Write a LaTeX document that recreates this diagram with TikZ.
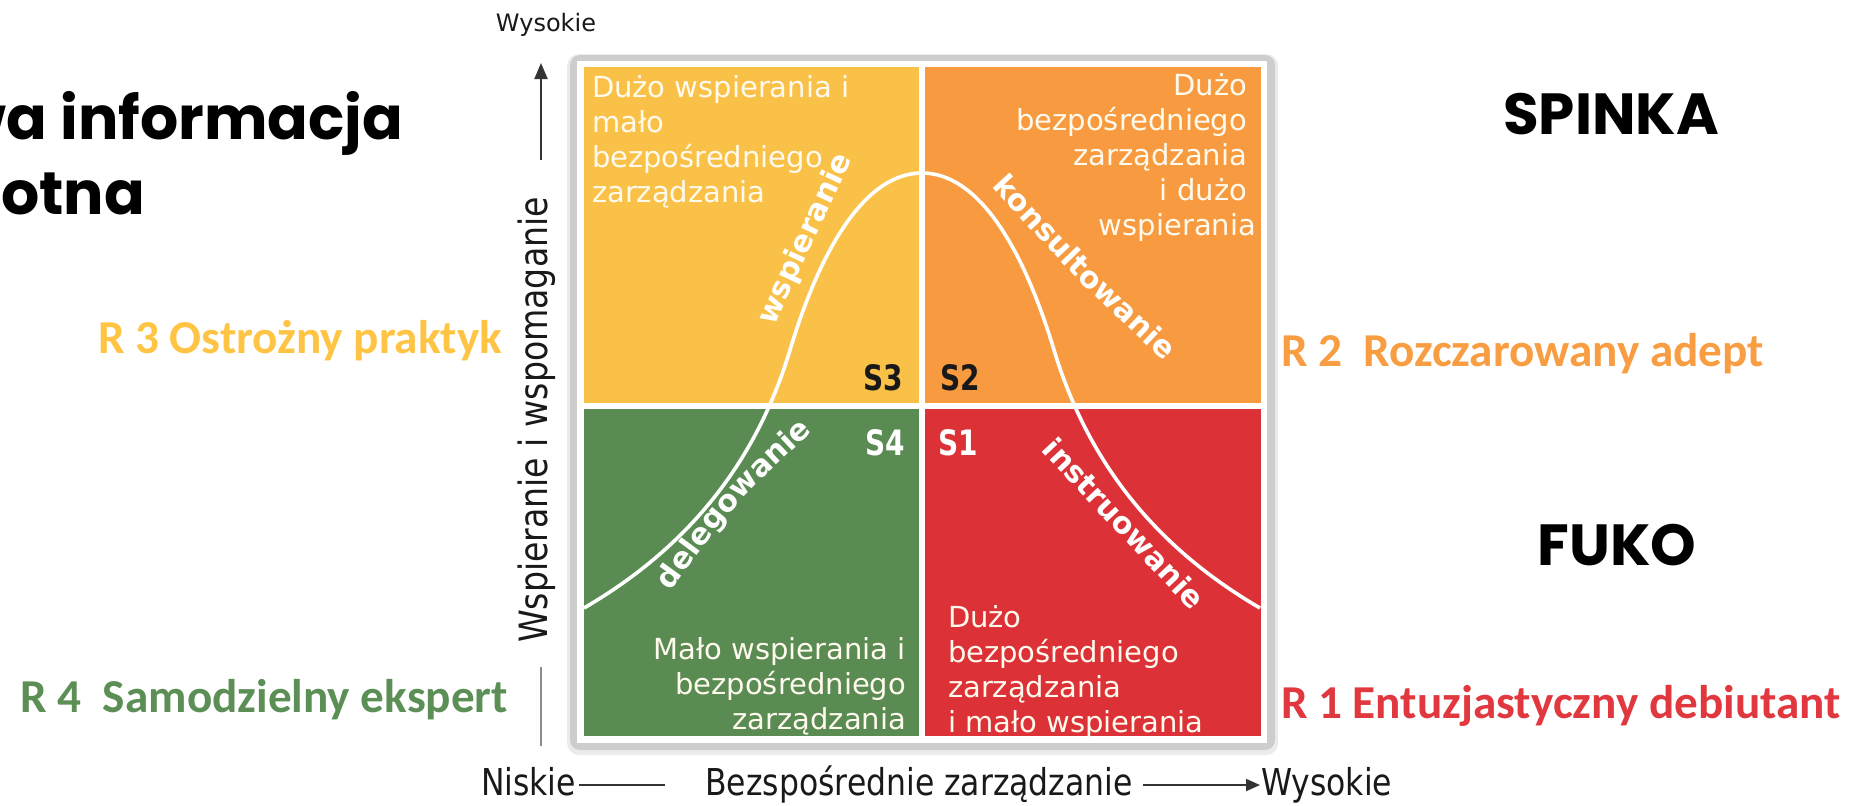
\documentclass[tikz,border=0pt]{standalone}
\usepackage{fontspec}
\setmainfont{DejaVu Sans}
\newfontfamily\condfont{DejaVu Sans}[FakeStretch=0.85]
\newfontfamily\slabfont{DejaVu Sans}[FakeStretch=0.8]
\newfontfamily\calfont{Carlito}
\newfontfamily\popfont{Poppins}
\usetikzlibrary{decorations.text,arrows.meta}
\definecolor{qyellow}{RGB}{250,193,72}
\definecolor{qorange}{RGB}{248,155,64}
\definecolor{qgreen}{RGB}{89,139,82}
\definecolor{qred}{RGB}{220,50,55}
\definecolor{lyellow}{RGB}{255,196,68}
\definecolor{lorange}{RGB}{249,157,66}
\definecolor{lred}{RGB}{224,56,62}
\definecolor{lgreen}{RGB}{92,143,86}
\definecolor{qtext}{RGB}{255,250,238}
\definecolor{framegray}{RGB}{205,205,205}
\newcommand\clabfnt{\fontsize{15pt}{18pt}\selectfont\bfseries}
\begin{document}
\begin{tikzpicture}[x=0.5pt,y=-0.5pt,
  every node/.style={inner sep=0pt, outer sep=0pt},
  quadtext/.style={font=\fontsize{14.5pt}{17.6pt}\selectfont, text=qtext},
  slabel/.style={font=\slabfont\bfseries\fontsize{17.5pt}{20pt}\selectfont},
  rlabel/.style={font=\calfont\bfseries\fontsize{23.6pt}{28pt}\selectfont},
  bigtext/.style={font=\popfont\bfseries\fontsize{29pt}{36pt}\selectfont},
  axistext/.style={font=\condfont\fontsize{18.5pt}{22pt}\selectfont, text=black!90},
  curvelabel/.style={decorate, decoration={text along path, text align=center, text color=white}},
  axisline/.style={line width=1pt, draw=black!80},
]
\useasboundingbox (0,0) rectangle (1852,805);
\clip (0,0) rectangle (1852,805);
\fill[white] (0,0) rectangle (1852,805);

% frame with shadow
\fill[black!8, rounded corners=6pt] (567,54) rectangle (1278,755);
\fill[framegray, rounded corners=5pt] (570,55) rectangle (1275,750);
\fill[white] (577,61) rectangle (1267,743);

% quadrants
\fill[qyellow] (584,67) rectangle (919,403);
\fill[qorange] (925,67) rectangle (1261,403);
\fill[qgreen] (584,409) rectangle (919,736);
\fill[qred] (925,409) rectangle (1261,736);

% bell curve
\draw[white, line width=1.8pt] (584,608) .. controls (694,544) and (758,456) .. (790,350)
  .. controls (822,244) and (867,173) .. (922,173)
  .. controls (977,173) and (1022,244) .. (1054,350)
  .. controls (1086,456) and (1150,544) .. (1260,608);

% curve labels
\path[curvelabel, decoration={text={|\clabfnt|wspieranie}}] (770,335) -- (856,150);
\path[curvelabel, decoration={text={|\clabfnt|konsultowanie}}] (983.5,177.5) .. controls (1074,277) .. (1172.5,369.5);
\path[curvelabel, decoration={text={|\clabfnt|delegowanie}}] (663,602) .. controls (733.7,504.1) .. (822.4,422.2);
\path[curvelabel, decoration={text={|\clabfnt|instruowanie}}] (1034.4,443.7) -- (1198.4,618.9);

% quadrant texts
\node[quadtext, align=left, anchor=north west] (tyellow) at (592,75) {Dużo wspierania i\\mało\\bezpośredniego\\zarządzania};
\node[quadtext, align=right, anchor=north east] (torange) at (1247,73) {Dużo\\bezpośredniego\\zarządzania\\i dużo\\wspierania\hspace*{-4.5pt}};
\node[quadtext, align=right, anchor=north east] (tgreen) at (906,637) {Mało wspierania i\\bezpośredniego\\zarządzania};
\node[quadtext, align=left, anchor=north west] (tred) at (948,605) {Dużo\\bezpośredniego\\zarządzania\\i mało wspierania};

% S labels
\node[slabel, text=black!90, anchor=base east] (s3) at (903,390) {S3};
\node[slabel, text=black!90, anchor=base west] (s2) at (940,390) {S2};
\node[slabel, text=white, anchor=base east] (s4) at (905,455) {S4};
\node[slabel, text=white, anchor=base west] (s1) at (938,455) {S1};

% vertical axis
\node[font=\fontsize{12pt}{14pt}\selectfont, text=black!90, anchor=base] (ytop) at (546,31) {Wysokie};
\node[axistext, font=\condfont\fontsize{19.5pt}{22pt}\selectfont, rotate=90] (ylab) at (537,420) {Wspieranie i wspomaganie};
\coordinate (yarrowstart) at (541,160);
\coordinate (yarrowend) at (541,63);
\coordinate (ylinetop) at (541,667);
\coordinate (ylinebot) at (541,746);
\draw[axisline, -{Triangle[length=8pt,width=6.5pt]}] (yarrowstart) -- (yarrowend);
\draw[line width=1.2pt, draw=black!45] (ylinetop) -- (ylinebot);

% horizontal axis
\node[axistext, anchor=base east] (xlow) at (576,795) {Niskie};
\node[axistext, anchor=base] (xlab) at (919,795) {Bezspośrednie zarządzanie};
\node[axistext, anchor=base west] (xhigh) at (1261,795) {Wysokie};
\coordinate (xl1) at (579,785);
\coordinate (xl2) at (665,785);
\coordinate (xr1) at (1143,785);
\coordinate (xr2) at (1260,785);
\draw[axisline] (xl1) -- (xl2);
\draw[axisline, -{Triangle[length=7pt,width=6pt]}] (xr1) -- (xr2);

% readiness labels
\node[rlabel, text=lyellow, anchor=base east] (r3) at (502,353) {R 3 Ostrożny praktyk};
\node[rlabel, text=lgreen, anchor=base east] (r4) at (508,712) {R 4\ \ Samodzielny ekspert};
\node[rlabel, text=lorange, anchor=base west] (r2) at (1281,366) {R 2\ \ Rozczarowany adept};
\node[rlabel, text=lred, anchor=base west] (r1) at (1281,718) {R 1 Entuzjastyczny debiutant};

% big black texts
\node[bigtext, anchor=base] (spinka) at (1611,134) {SPINKA};
\node[bigtext, anchor=base] (fuko) at (1617,565) {FUKO};
\node[bigtext, font=\popfont\bfseries\fontsize{30pt}{38pt}\selectfont, anchor=base east] (info1) at (403,139) {wa informacja};
\node[bigtext, font=\popfont\bfseries\fontsize{30pt}{38pt}\selectfont, anchor=base east] (info2) at (145,214) {otna};
\end{tikzpicture}
\end{document}
